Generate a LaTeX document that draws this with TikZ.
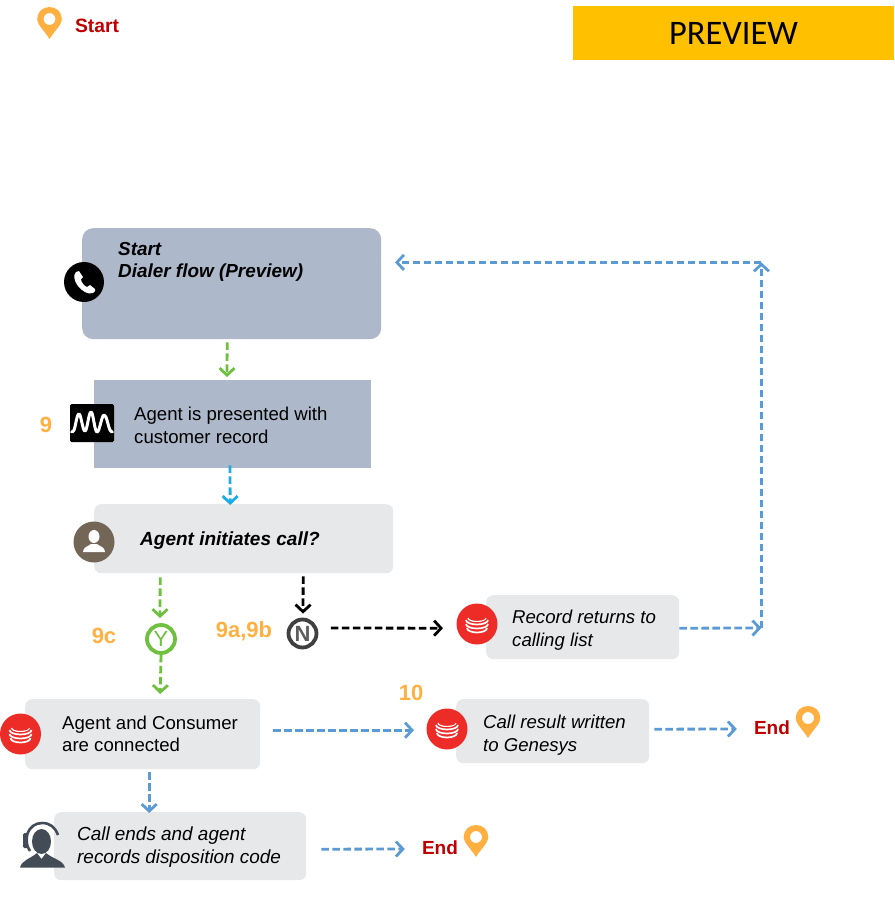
\documentclass[tikz,border=0pt]{standalone}
\usepackage{fontspec}
\setmainfont{Liberation Sans}
\newfontfamily\prevfont{Carlito}
\usetikzlibrary{arrows.meta,calc}
\definecolor{boxblue}{HTML}{ADB9CA}
\definecolor{boxgray}{HTML}{E7E8EA}
\definecolor{flowgreen}{HTML}{70C040}
\definecolor{flowcyan}{HTML}{1CACE6}
\definecolor{flowblue}{HTML}{5B9BD5}
\definecolor{pinorange}{HTML}{FFB040}
\definecolor{endred}{HTML}{C00000}
\definecolor{iconred}{HTML}{EE2C27}
\definecolor{agentbrown}{HTML}{736657}
\definecolor{headset}{HTML}{434C56}
\definecolor{nring}{HTML}{404040}
\definecolor{prevyellow}{HTML}{FFC000}
\tikzset{
  x=1pt,y=-1pt,
  flow/.style={line width=2.8pt,dash pattern=on 7.5pt off 3.5pt,-{Straight Barb[length=7pt,width=15pt,line width=2.8pt]}},
  greenflow/.style={flow,draw=flowgreen},
  cyanflow/.style={flow,draw=flowcyan},
  blueflow/.style={flow,draw=flowblue},
  blackflow/.style={flow,draw=black},
  grayroundbox/.style={fill=boxgray,rounded corners=7pt,inner sep=0pt,anchor=north west},
  txt/.style={font=\fontsize{18.6}{22.8}\selectfont,align=left,anchor=west,inner sep=0pt,text=black},
  itxt/.style={txt,font=\fontsize{18.6}{22.8}\selectfont\itshape},
  bitxt/.style={txt,font=\fontsize{18.9}{22.5}\selectfont\bfseries\itshape},
  numlabel/.style={font=\fontsize{22}{26}\selectfont\bfseries,text=pinorange,inner sep=0pt},
  endlabel/.style={font=\fontsize{19}{23}\selectfont\bfseries,text=endred,inner sep=0pt},
  choice/.style={circle,line width=3.8pt,minimum size=28pt,inner sep=0pt,fill=white,font=\fontsize{22}{24}\selectfont},
  redicon/.pic={
    \fill[iconred] (0,0) circle (20.5);
    \draw[white,line width=.9pt] (-9,-6) arc[start angle=180,end angle=0,x radius=9,y radius=3.5];
    \draw[white,line width=.9pt] (-9,-6) arc[start angle=180,end angle=300,x radius=9,y radius=-3.5];
    \draw[white,line width=1.7pt] (-11,-4) arc[start angle=180,end angle=0,x radius=11,y radius=4.5];
    \draw[white,line width=1.7pt] (-11,0) arc[start angle=180,end angle=0,x radius=11,y radius=4.5];
    \draw[white,line width=1.7pt] (-10,4) arc[start angle=180,end angle=0,x radius=10,y radius=4.5];
  },
  pinicon/.pic={
    \fill[pinorange,even odd rule] (0,16) .. controls (-4,9) and (-12.3,2) .. (-12.3,-4)
      .. controls (-12.3,-11) and (-7,-16) .. (0,-16)
      .. controls (7,-16) and (12.3,-11) .. (12.3,-4)
      .. controls (12.3,2) and (4,9) .. (0,16) -- cycle
      (6,-4) arc[start angle=0,end angle=360,radius=6];
  },
}
\begin{document}
\begin{tikzpicture}
\useasboundingbox (0,0) rectangle (894,899);
% preview banner
\node[fill=prevyellow,minimum width=321pt,minimum height=54pt,inner sep=0pt,font=\prevfont\fontsize{34.4}{40}\selectfont] (preview) at (733.5,33) {PREVIEW};
% start legend
\pic at (49.5,23) {pinicon};
\node[endlabel,font=\fontsize{19.3}{23}\selectfont\bfseries] (startlbl) at (97,26) {Start};
% boxes
\node[fill=boxblue,rounded corners=11pt,minimum width=299pt,minimum height=111pt,inner sep=0pt,anchor=north west] (dialer) at (82,228) {};
\node[fill=boxblue,minimum width=277.5pt,minimum height=88pt,inner sep=0pt,anchor=north west] (present) at (93.5,380) {};
\node[grayroundbox,minimum width=299pt,minimum height=69pt] (initiate) at (94,504) {};
\node[grayroundbox,minimum width=193pt,minimum height=64pt] (record) at (486,595) {};
\node[grayroundbox,minimum width=235pt,minimum height=70pt] (connected) at (25,699) {};
\node[grayroundbox,minimum width=193pt,minimum height=64pt] (result) at (456,699) {};
\node[grayroundbox,minimum width=252pt,minimum height=68pt] (ends) at (54,812) {};
% box texts
\node[bitxt] (dialertxt) at (118,262) {Start\\Dialer flow (Preview)};
\node[txt] (presenttxt) at (134,425) {Agent is presented with\\customer record};
\node[bitxt,font=\fontsize{19}{23}\selectfont\bfseries\itshape] (initiatetxt) at (140,540.5) {Agent initiates call?};
\node[itxt] (recordtxt) at (512,630.5) {Record returns to\\calling list};
\node[txt,font=\fontsize{18.6}{22.3}\selectfont] (connectedtxt) at (62,734) {Agent and Consumer\\are connected};
\node[itxt] (resulttxt) at (483,735) {Call result written\\to Genesys};
\node[itxt,font=\fontsize{18.9}{22.6}\selectfont\itshape] (endstxt) at (77,847) {Call ends and agent\\records disposition code};
% choices
\node[choice,draw=flowgreen,text=flowgreen] (yes) at (161,639) {Y};
\node[choice,draw=nring,text=nring!85,font=\fontsize{22}{24}\selectfont\bfseries] (no) at (302.5,633.5) {N};
% step numbers
\node[numlabel] (n9) at (46,425) {9};
\node[numlabel] (n9c) at (104,636) {9c};
\node[numlabel] (n9ab) at (244,631) {9a,9b};
\node[numlabel] (n10) at (411,693) {10};
% end labels
\node[endlabel] (end1) at (772,728) {End};
\pic at (808,722) {pinicon};
\node[endlabel] (end2) at (440,848) {End};
\pic at (476,841) {pinicon};
% phone icon
\fill[black] (84,282) circle (20);
\fill[white] (76,272) .. controls (73,275) and (74,281) .. (78,286)
  .. controls (82,291) and (88,295) .. (93,293)
  .. controls (95,292) and (96,290) .. (95,289) -- (90,285) -- (87,287)
  .. controls (84,286) and (81,282) .. (81,279) -- (83,277) -- (79,271) .. controls (78,271) and (77,271) .. (76,272) -- cycle;
% waveform icon
\fill[black,rounded corners=1.5pt] (70,404) rectangle (114,442);
\draw[white,line width=3pt,line join=round] plot[smooth,tension=.7] coordinates {(71,431)(74,430)(79,414)(85,431)(91,412)(97,432)(104,415)(110,430)(113,431)};
% agent icon
\fill[agentbrown] (94,542) circle (20.5);
\fill[white] (94,536.5) ellipse (5.5 and 6.5);
\fill[white] (83,552) .. controls (83,547) and (88,546.5) .. (91,544) -- (97,544) .. controls (100,546.5) and (105,547) .. (105,552) -- cycle;
% red icons
\pic at (20.5,734) {redicon};
\pic at (477,624) {redicon};
\pic at (447,729) {redicon};
% headset agent icon
\fill[headset] (41.5,841.5) ellipse (9.5 and 12.5);
\fill[headset] (20,867.5) .. controls (22,860) and (30,859) .. (37,853) -- (41.5,859) -- (46,853) .. controls (53,859) and (63,860) .. (65,867.5) -- cycle;
\draw[headset,line width=2.6pt] (30,851) .. controls (22,840) and (28,823) .. (42,823) .. controls (50,823) and (55,827) .. (58,835);
\fill[headset,rounded corners=1.5pt] (23,833) rectangle (28,848);
% connectors
\coordinate (cornerlow) at (761.4,628);
\coordinate (cornerhigh) at (761.4,262.4);
\coordinate (dialerin) at (395,262.4);
\draw[greenflow] ([xshift=-4.5pt,yshift=-3pt]dialer.south) -- ([xshift=-5.5pt,yshift=3pt]present.north);
\draw[cyanflow] ([xshift=-2.5pt,yshift=3pt]present.south) -- ([xshift=-13.5pt,yshift=-1pt]initiate.north);
\draw[greenflow] ([xshift=-83.5pt,yshift=-4pt]initiate.south) -- ([xshift=-1pt,yshift=5pt]yes.north);
\draw[greenflow] (yes.south) -- ([xshift=17.5pt,yshift=5pt]connected.north);
\draw[blackflow] ([xshift=59.5pt,yshift=-3pt]initiate.south) -- ([xshift=.5pt,yshift=4pt]no.north);
\draw[blackflow] ([xshift=12.4pt,yshift=5.5pt]no.east) -- ([xshift=-43pt,yshift=-1pt]record.west);
\draw[blueflow] ([yshift=-1pt]record.east) -- (cornerlow);
\draw[blueflow] (cornerlow) -- (cornerhigh);
\draw[blueflow] (cornerhigh) -- (dialerin);
\draw[blueflow] ([xshift=13pt,yshift=4pt]connected.east) -- ([xshift=-42pt,yshift=1pt]result.west);
\draw[blueflow] ([xshift=5pt,yshift=2pt]result.east) -- ([xshift=-17pt,yshift=-1pt]end1.west);
\draw[blueflow] ([xshift=6.5pt,yshift=-3pt]connected.south) -- ([xshift=-31pt,yshift=-1pt]ends.north);
\draw[blueflow] ([xshift=15pt,yshift=-3pt]ends.east) -- ([xshift=-17pt,yshift=-1pt]end2.west);
\end{tikzpicture}
\end{document}
